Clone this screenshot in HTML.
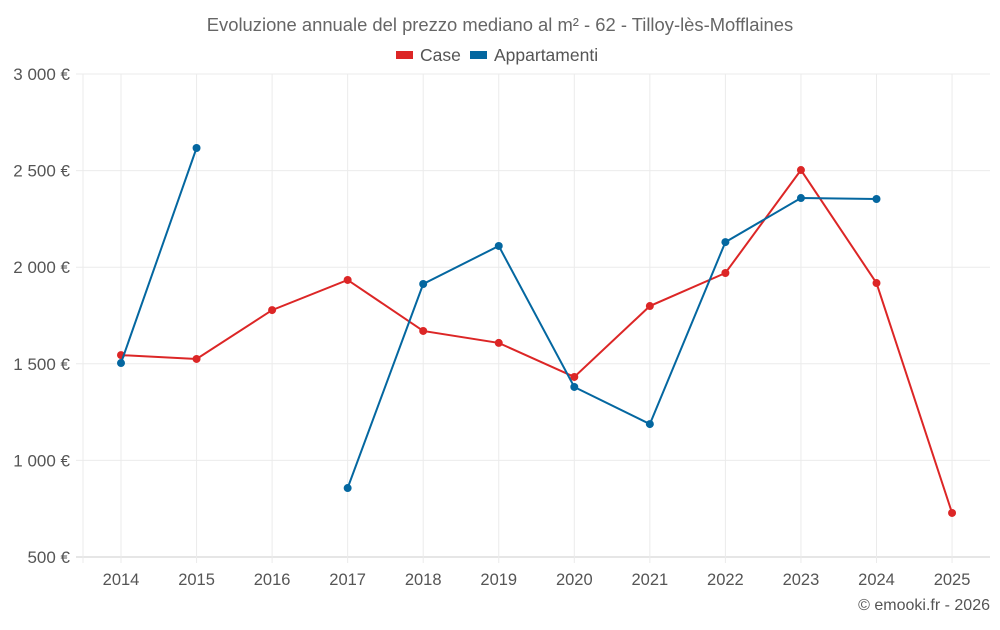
<!DOCTYPE html>
<html><head><meta charset="utf-8"><style>
body{margin:0;background:#fff;font-family:"Liberation Sans",sans-serif}
svg text{font-family:"Liberation Sans",sans-serif}
</style></head><body>
<svg id="chart" width="1000" height="625">
<text x="500" y="31" text-anchor="middle" font-size="18.4" fill="#666">Evoluzione annuale del prezzo mediano al m² - 62 - Tilloy-lès-Mofflaines</text>
<g>
<g><rect x="396" y="51" width="17" height="8" fill="#dc2626"/><text x="420" y="61" font-size="17.5" fill="#555">Case</text></g>
<g><rect x="470" y="51" width="17" height="8" fill="#0467a0"/><text x="494" y="61" font-size="17.5" fill="#555">Appartamenti</text></g>
</g>
<g id="grid"></g><g id="series"></g>
<text x="990" y="610" text-anchor="end" font-size="16" fill="#555">© emooki.fr - 2026</text>
</svg>
<script>
const years=["2014","2015","2016","2017","2018","2019","2020","2021","2022","2023","2024","2025"];
const caseVals=[1545,1525,1778,1934,1670,1608,1432,1799,1970,2503,1918,728];
const aptVals=[1504,2617,null,857,1913,2110,1380,1188,2130,2358,2353,null];
const yTicks=[500,1000,1500,2000,2500,3000];
const yLabels=["500 €","1 000 €","1 500 €","2 000 €","2 500 €","3 000 €"];
const NS="http://www.w3.org/2000/svg";
const L=83,R=990,T=74,B=557;
const x=i=>121+i*75.55;
const y=v=>B-(v-500)/2500*(B-T);
function mk(t,a,p){const e=document.createElementNS(NS,t);for(const k in a)e.setAttribute(k,a[k]);p.appendChild(e);return e;}
const g=document.getElementById('grid');
yTicks.forEach((v,i)=>{
 const l=mk('line',{x1:76,x2:R,y1:y(v),y2:y(v),stroke:i==0?'#ccc':'#ebebeb'},g);
 
 
 const t=mk('text',{x:70,y:y(v)+6,'text-anchor':'end','font-size':17,fill:'#555'},g);t.textContent=yLabels[i];
 
 
});
mk('line',{x1:L,x2:L,y1:T,y2:B+6,stroke:'#ebebeb'},g);
years.forEach((yr,i)=>{
 const l=mk('line',{x1:x(i),x2:x(i),y1:T,y2:B+6,stroke:'#ebebeb'},g);
 
 
 const t=mk('text',{x:x(i),y:585,'text-anchor':'middle','font-size':16.5,fill:'#555'},g);t.textContent=yr;
 
 
});
const s=document.getElementById('series');
function draw(vals,col,name){
 let d='',pen=false;
 vals.forEach((v,i)=>{if(v==null){pen=false;return;}d+=(pen?'L':'M')+x(i)+' '+y(v)+' ';pen=true;});
 const p=mk('path',{d:d,fill:'none',stroke:col,'stroke-width':2},s);
 
 
 vals.forEach((v,i)=>{if(v==null)return;
  const c=mk('circle',{cx:x(i),cy:y(v),r:4,fill:col},s);
  
  
 });
}
draw(caseVals,'#dc2626','case');
draw(aptVals,'#0467a0','appartamenti');
</script>
</body></html>
